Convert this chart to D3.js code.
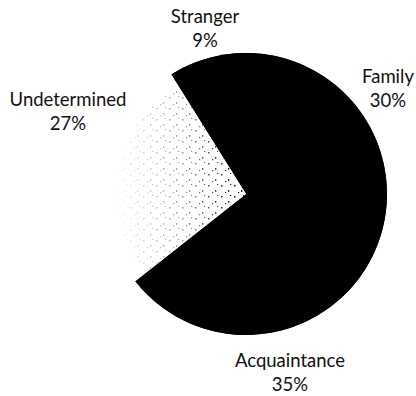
<!DOCTYPE html>
<html>
<head>
<meta charset="utf-8">
<script src="https://cdn.jsdelivr.net/npm/d3@7"></script>
<style>
  html, body { margin: 0; padding: 0; background: #fff; }
  svg { display: block; }
  .lbl { font-family: Lato, "Open Sans", sans-serif; font-size: 18.5px; fill: #111; }
</style>
</head>
<body>
<svg id="chart" width="416" height="396"></svg>
<script>
// data
const categories = ["Stranger", "Family", "Acquaintance", "Undetermined"];
const percents = [9, 30, 35, 27];

// layout
const width = 416, height = 396;
const cx = 246, cy = 194, radius = 141;
const startDeg = -32;
// label anchors, relative to pie centre (line 1 baseline)
const labelAnchors = [[-41, -171], [142, -111], [44, 173], [-178, -88]];
const lineGap = 24;

const svg = d3.select("#chart");
const defs = svg.append("defs");

// speckle texture for the undetermined slice (scan noise look)
let pat = defs.append("pattern")
  .attr("id", "speck")
  .attr("patternUnits", "userSpaceOnUse")
  .attr("width", 13).attr("height", 11);
pat.append("rect").attr("x", 1).attr("y", 2).attr("width", 1.5).attr("height", 1.5).attr("fill", "#000");
pat.append("rect").attr("x", 8).attr("y", 7).attr("width", 1.3).attr("height", 1.8).attr("fill", "#000");
pat.append("rect").attr("x", 5).attr("y", 9).attr("width", 1.2).attr("height", 1.2).attr("fill", "#000");
pat.append("rect").attr("x", 10).attr("y", 1).attr("width", 1.2).attr("height", 1).attr("fill", "#000");

let grad = defs.append("linearGradient")
  .attr("id", "fade")
  .attr("gradientUnits", "userSpaceOnUse")
  .attr("x1", cx - 5).attr("y1", 0).attr("x2", cx - 135).attr("y2", 0);
grad.append("stop").attr("offset", "0").attr("stop-color", "#fff").attr("stop-opacity", 1);
grad.append("stop").attr("offset", "0.45").attr("stop-color", "#fff").attr("stop-opacity", 0.4);
grad.append("stop").attr("offset", "1").attr("stop-color", "#fff").attr("stop-opacity", 0);

let mask = defs.append("mask").attr("id", "fadeMask")
  .attr("maskUnits", "userSpaceOnUse")
  .attr("x", 0).attr("y", 0).attr("width", width).attr("height", height);
mask.append("rect").attr("x", 0).attr("y", 0).attr("width", width).attr("height", height).attr("fill", "url(#fade)");

const pie = d3.pie()
  .sort(null)
  .value(d => d)
  .startAngle(startDeg * Math.PI / 180)
  .endAngle((startDeg + 360) * Math.PI / 180);

const arcs = pie(percents);
const arc = d3.arc().innerRadius(0).outerRadius(radius);
const undIdx = categories.indexOf("Undetermined");

const g = svg.append("g").attr("transform", `translate(${cx},${cy})`);

// one solid backing for the black slices so no seams show
g.append("path")
  .attr("d", arc({startAngle: arcs[0].startAngle, endAngle: arcs[undIdx - 1].endAngle}))
  .attr("fill", "#000");

g.selectAll("path.slice")
  .data(arcs)
  .enter().append("path")
  .attr("class", "slice")
  .attr("d", arc)
  .attr("fill", (d, i) => i == undIdx ? "#fff" : "#000");

// speckles over the white slice
svg.append("g")
  .attr("mask", "url(#fadeMask)")
  .append("path")
  .attr("transform", `translate(${cx},${cy})`)
  .attr("d", d3.arc().innerRadius(0).outerRadius(radius - 12)(arcs[undIdx]))
  .attr("fill", "url(#speck)");

// labels
const labels = g.selectAll("text.lbl")
  .data(arcs)
  .enter().append("text")
  .attr("class", "lbl")
  .attr("text-anchor", "middle")
  .attr("transform", (d, i) => `translate(${labelAnchors[i][0]},${labelAnchors[i][1]})`);

labels.append("tspan").attr("x", 0).attr("y", 0).text((d, i) => categories[i]);
labels.append("tspan").attr("x", 0).attr("y", lineGap).text((d, i) => percents[i] + "%");
</script>
</body>
</html>
